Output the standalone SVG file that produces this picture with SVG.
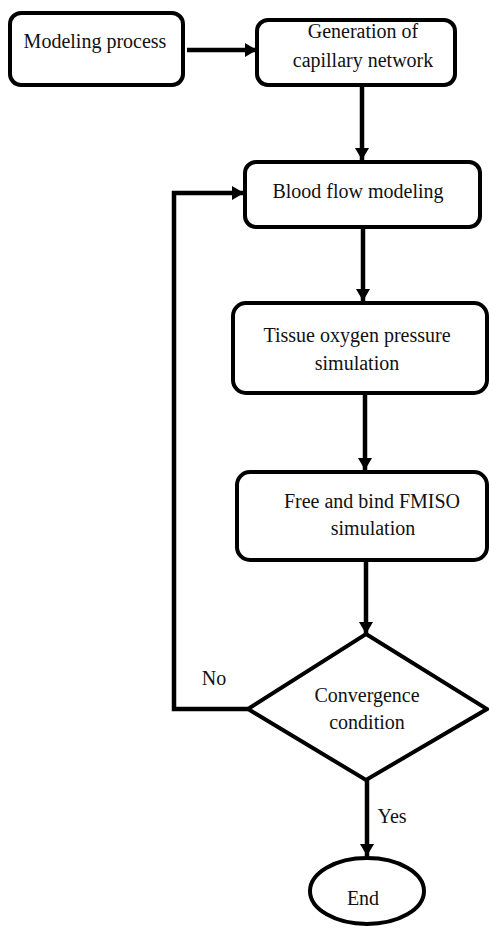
<svg xmlns="http://www.w3.org/2000/svg" width="489" height="928" viewBox="0 0 489 928">
<style>
.box{fill:#fff;stroke:#000;stroke-width:4}
.t{font-family:"Liberation Serif","Times New Roman",serif;font-size:20px;fill:#111;text-anchor:middle}
.c{fill:none;stroke:#000;stroke-width:4.5;stroke-linejoin:miter}
</style>
<defs>
<marker id="ah" viewBox="0 0 12 14" refX="12" refY="7" markerWidth="12" markerHeight="14" markerUnits="userSpaceOnUse" orient="auto">
<path d="M0,0 L12,7 L0,14 z" fill="#000"/>
</marker>
</defs>
<rect width="489" height="928" fill="#fff"/>
<g id="connectors">
<line class="c" x1="187" y1="50" x2="257" y2="50" marker-end="url(#ah)"/>
<line class="c" x1="362" y1="85" x2="362" y2="160" marker-end="url(#ah)"/>
<line class="c" x1="363" y1="227" x2="363" y2="301" marker-end="url(#ah)"/>
<line class="c" x1="365" y1="393" x2="365" y2="470" marker-end="url(#ah)"/>
<line class="c" x1="366" y1="560" x2="366" y2="634" marker-end="url(#ah)"/>
<line class="c" x1="367" y1="780" x2="367" y2="856" marker-end="url(#ah)"/>
<polyline class="c" points="248,709 174,709 174,193 244,193" marker-end="url(#ah)"/>
<text class="t" x="214" y="685">No</text>
<text class="t" x="392" y="823">Yes</text>
</g>
<g id="modeling-process">
<rect class="box" x="10" y="13" width="173" height="72" rx="11"/>
<text class="t" x="95" y="48">Modeling process</text>
</g>
<g id="generation">
<rect class="box" x="257" y="20" width="198" height="65" rx="11"/>
<text class="t" x="363" y="38">Generation of</text>
<text class="t" x="363" y="67">capillary network</text>
</g>
<g id="blood-flow">
<rect class="box" x="245" y="162" width="235" height="65" rx="11"/>
<text class="t" x="358" y="198">Blood flow modeling</text>
</g>
<g id="tissue-oxygen">
<rect class="box" x="233" y="303" width="254" height="90" rx="13"/>
<text class="t" x="357" y="342">Tissue oxygen pressure</text>
<text class="t" x="357" y="370">simulation</text>
</g>
<g id="fmiso">
<rect class="box" x="237" y="472" width="250" height="88" rx="13"/>
<text class="t" x="372" y="508">Free and bind FMISO</text>
<text class="t" x="373" y="535">simulation</text>
</g>
<g id="convergence">
<polygon class="box" points="366,634 487,709 366,780 248,709"/>
<text class="t" x="367" y="702">Convergence</text>
<text class="t" x="367" y="729">condition</text>
</g>
<g id="end">
<ellipse class="box" cx="367" cy="891" rx="57" ry="33"/>
<text class="t" x="363" y="905">End</text>
</g>
</svg>
